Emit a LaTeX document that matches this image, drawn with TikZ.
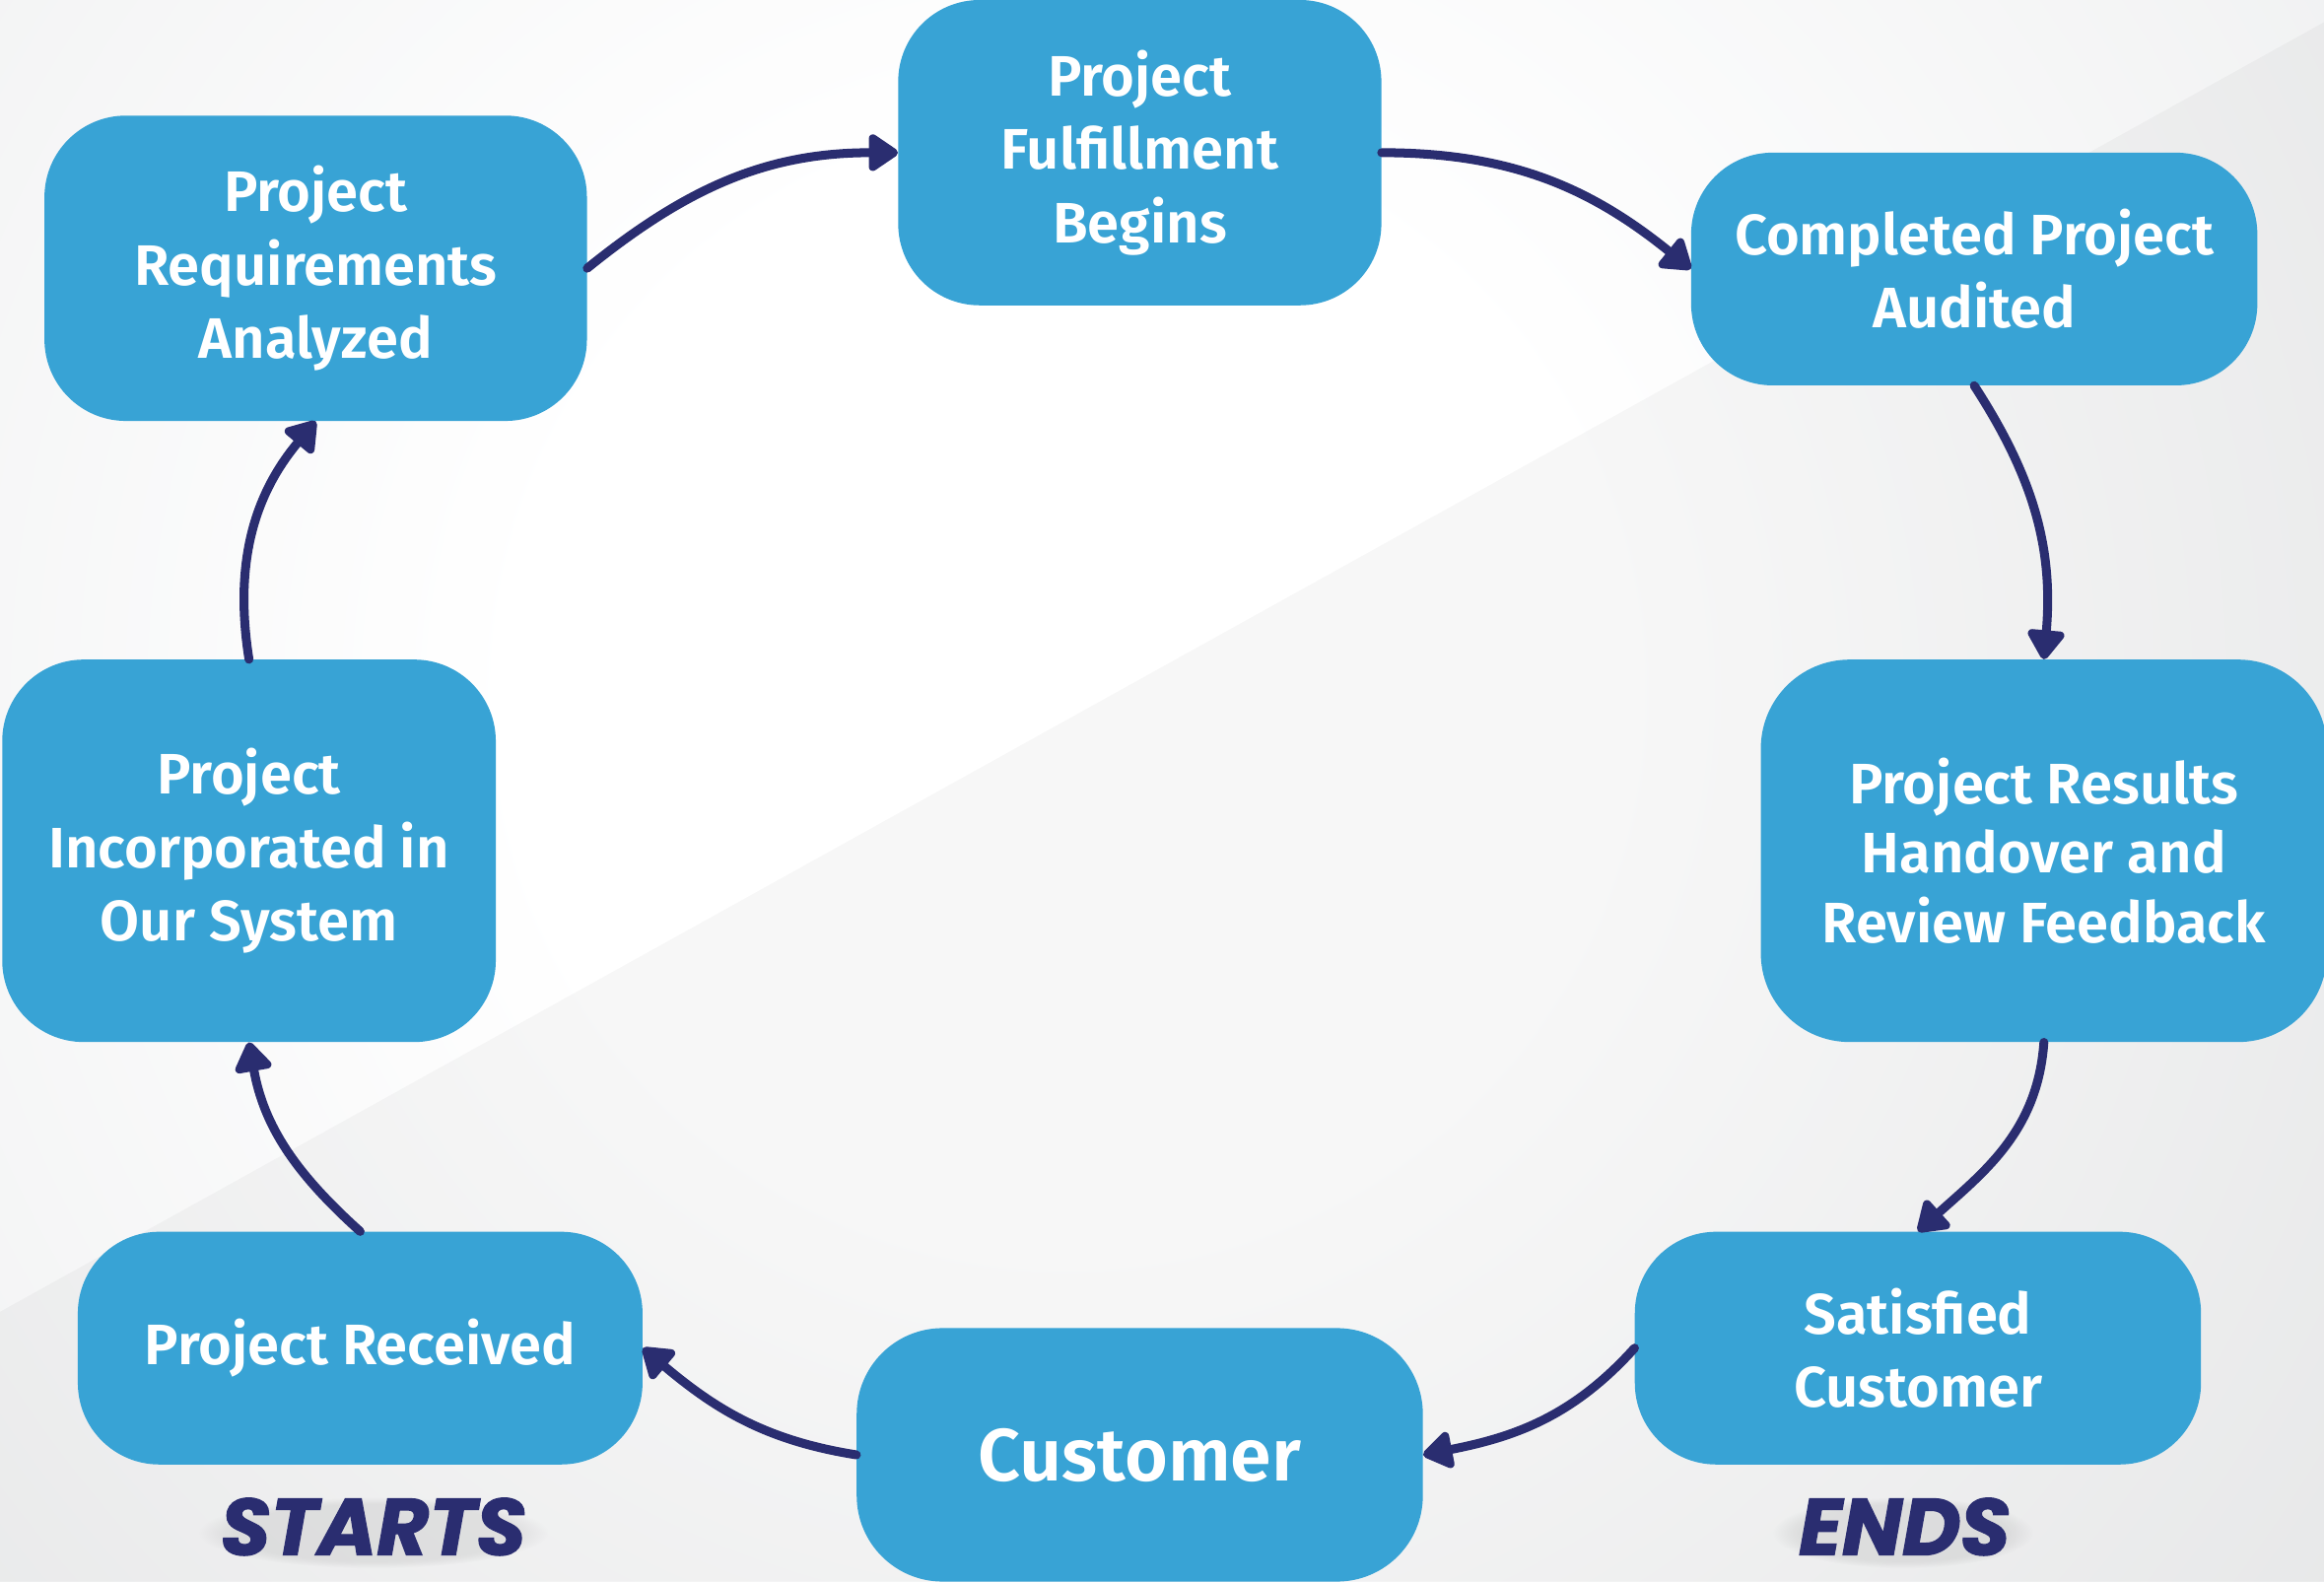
\documentclass[tikz,border=0pt]{standalone}
\usepackage{fontspec}
\setmainfont{Fira Sans}[BoldFont={Fira Sans SemiBold}]
\newfontfamily\heavyfont{Poppins}[BoldItalicFeatures={FakeBold=1.6}]
\usetikzlibrary{arrows.meta,fadings}
\definecolor{boxblue}{HTML}{38A3D5}
\definecolor{navy}{HTML}{2A2D70}
\definecolor{bgout}{HTML}{D8D9DB}
\definecolor{bgmid}{HTML}{ECEDEE}
\pgfdeclareradialshading{bgglow}{\pgfpoint{0bp}{0bp}}{color(0bp)=(white); color(8bp)=(white); color(26bp)=(bgmid); color(50bp)=(bgout)}
\begin{document}
\begin{tikzpicture}[x=1pt,y=1pt,
  stage/.style={fill=boxblue, rounded corners=55pt, inner sep=0pt, text=white, align=center,
    font=\bfseries\fontsize{38.5}{49.5}\selectfont},
  flow/.style={draw=navy, line width=6pt, line cap=round,
    -{Triangle[length=22pt,width=28pt,round]}},
  tag/.style={text=navy, inner sep=0pt, font=\heavyfont\bfseries\itshape\fontsize{54}{60}\selectfont},
  tagglow/.style={fill=black, opacity=0.07, path fading=circle with fuzzy edge 20 percent}]
\useasboundingbox (0,0) rectangle (1568,1067);
\fill[bgout] (0,0) rectangle (1568,1067);
\shade[shading=bgglow] (720,600) circle (1150);
\fill[black, opacity=0.03] (0,182) -- (1568,1052) -- (1568,0) -- (0,0) -- cycle;

\node[stage, minimum width=366pt, minimum height=206pt] (req) at (213,886) {Project\\Requirements\\Analyzed};
\node[stage, minimum width=326pt, minimum height=206pt] (ful) at (769,964) {Project\\Fulfillment\\Begins};
\node[stage, minimum width=382pt, minimum height=157pt] (aud) at (1332,885.5) {Completed Project\\Audited};
\node[stage, minimum width=382pt, minimum height=258pt, rounded corners=60pt,
  font=\bfseries\fontsize{38.5}{47}\selectfont] (res) at (1379,493) {Project Results\\Handover and\\Review Feedback};
\node[stage, minimum width=382pt, minimum height=157pt] (sat) at (1294,157.5) {Satisfied\\Customer};
\node[stage, minimum width=382pt, minimum height=171pt, rounded corners=58pt,
  font=\bfseries\fontsize{50}{60}\selectfont] (cus) at (769,85.5) {Customer};
\node[stage, minimum width=381pt, minimum height=157pt] (rec) at (243,157.5) {Project Received};
\node[stage, minimum width=333pt, minimum height=258pt] (inc) at (168,493) {Project\\Incorporated in\\Our System};

\draw[flow] (req.east) to[out=39,in=180] (ful.west);
\draw[flow] (ful.east) to[out=0,in=141] (aud.west);
\draw[flow] (aud.south) to[out=-57,in=85] (res.north);
\draw[flow] (res.south) to[out=-94,in=42] (sat.north);
\draw[flow] (sat.west) to[out=-132,in=11] (cus.east);
\draw[flow] (cus.west) to[out=171,in=-40] (rec.east);
\draw[flow] (rec.north) to[out=138,in=-80] (inc.south);
\draw[flow] (inc.north) to[out=99,in=230] (req.south);

\fill[tagglow] (252,33) ellipse (118pt and 24pt);
\fill[tagglow] (1284,33) ellipse (88pt and 24pt);
\node[tag] (starts) at (252,37) {STARTS};
\node[tag] (ends) at (1285,37) {ENDS};
\end{tikzpicture}
\end{document}
